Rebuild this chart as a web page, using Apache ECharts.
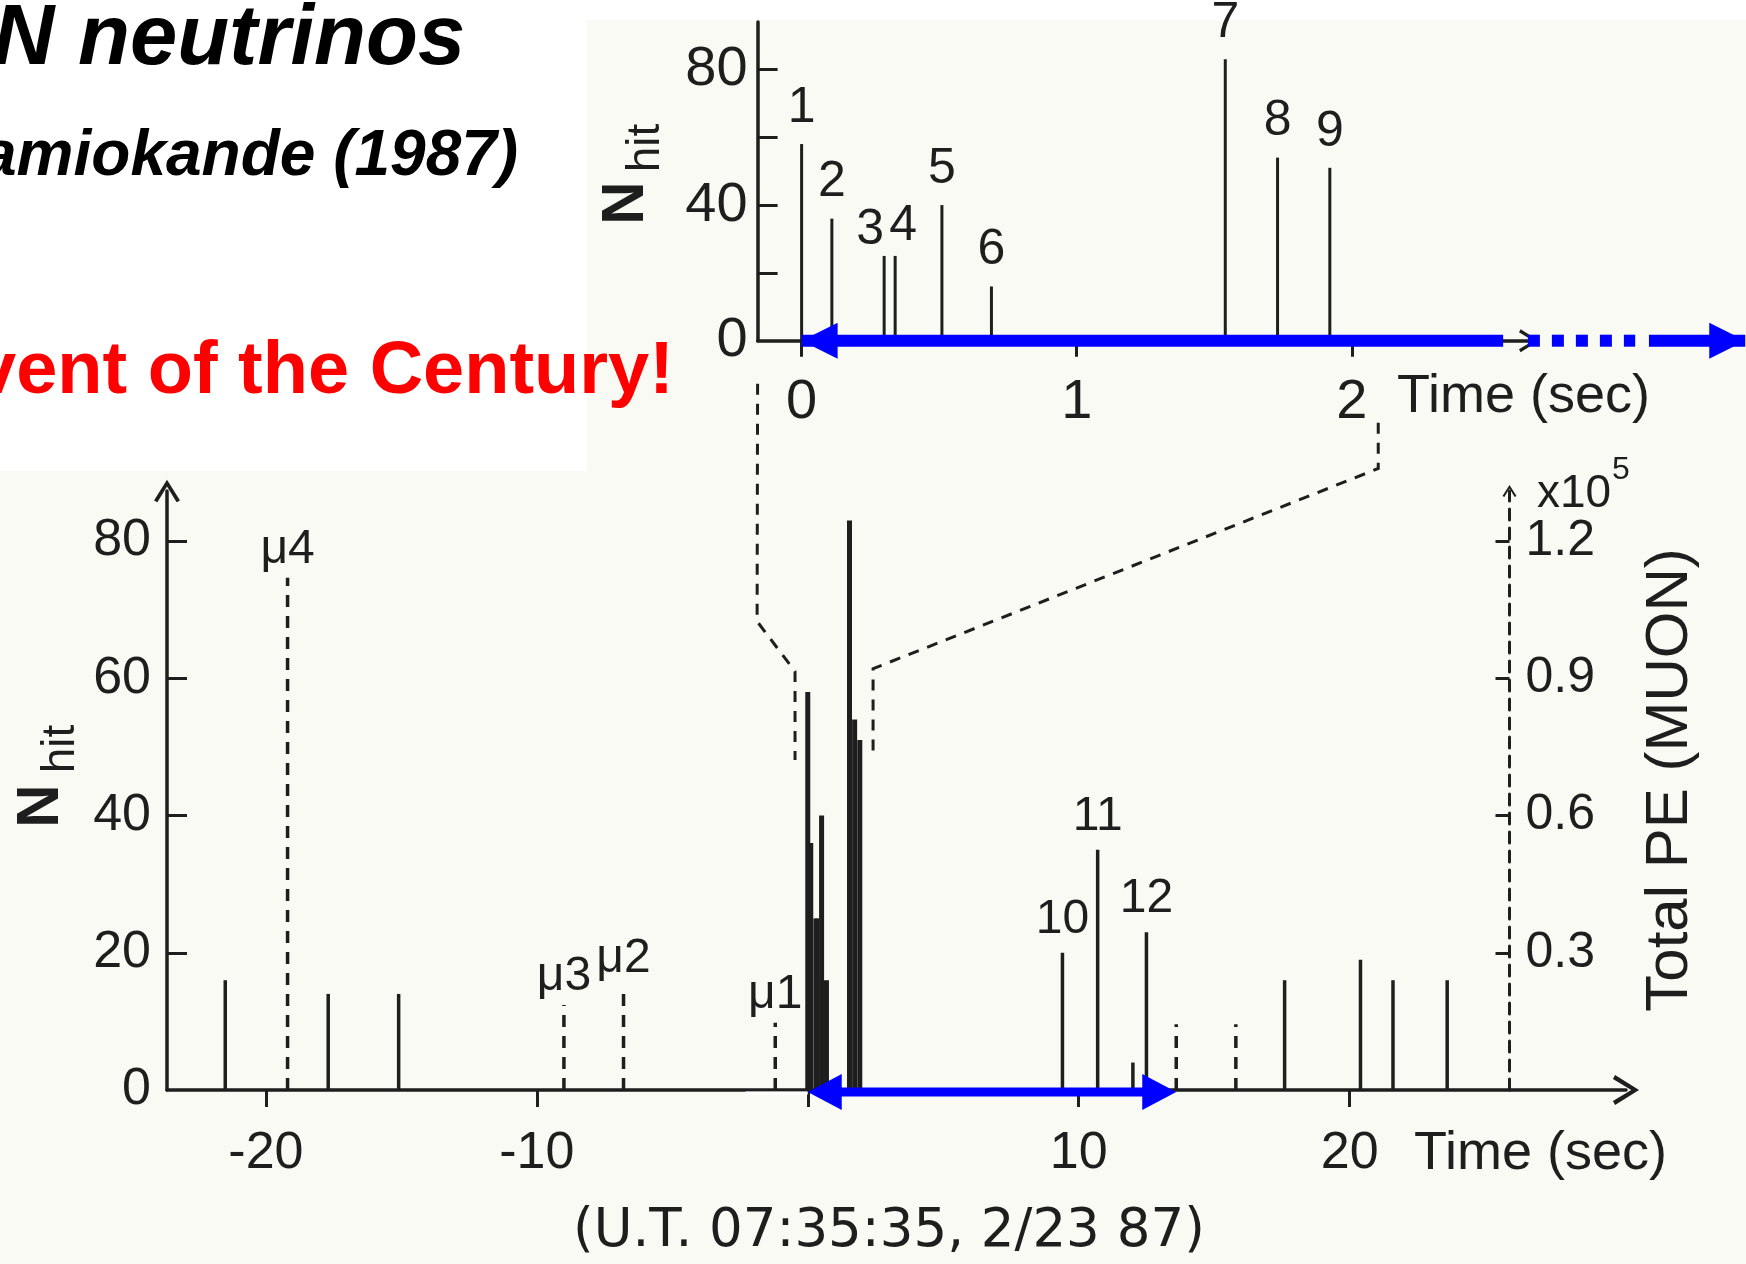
<!DOCTYPE html>
<html>
<head>
<meta charset="utf-8">
<title>SN1987A neutrinos – Kamiokande</title>
<script src="https://cdn.jsdelivr.net/npm/echarts@6/dist/echarts.min.js"></script>
<style>
  html, body { margin: 0; padding: 0; background: #ffffff; }
  #chart { width: 1746px; height: 1264px; }
</style>
</head>
<body>
<div id="chart"></div>
<script>
// ---- Kamiokande-II events around 07:35:35 UT, 23 Feb 1987 ----

// Burst events 1-9 (first two seconds), time in s, Nhit
const burstTimes = [0.00, 0.11, 0.30, 0.34, 0.51, 0.69, 1.54, 1.73, 1.92];
const burstNhit  = [58, 36, 25, 25, 40, 16, 83, 54, 51];
const burstIds   = ['1', '2', '3', '4', '5', '6', '7', '8', '9'];

// Later burst events 10-12
const lateTimes = [9.4, 10.7, 12.5];
const lateNhit  = [20, 35, 23];
const lateIds   = ['10', '11', '12'];

// Background (low-energy) events
const bgTimes = [-21.5, -17.7, -15.1, 12.0, 17.6, 20.4, 21.6, 23.6];
const bgNhit  = [16, 14, 14, 4, 16, 19, 16, 16];

// Muon events, total photoelectrons in units of 1e5
const muonTimes = [-19.2, -9.0, -6.8, -1.2, 13.6, 15.8];
const muonPE    = [1.12, 0.186, 0.225, 0.147, 0.144, 0.144];
const muonIds   = ['μ4', 'μ3', 'μ2', 'μ1', '', ''];

// Axis ticks and labels
const topXTicks  = [0, 1, 2];
const topYTicks  = [20, 40, 60, 80];
const topYLabels = [0, 40, 80];
const botXTicks  = [-20, -10, 0, 10, 20];
const botXLabels = [-20, -10, 10, 20];
const botYTicks  = [20, 40, 60, 80];
const botYLabels = [0, 20, 40, 60, 80];
const peTicks    = [0.3, 0.6, 0.9, 1.2];

// Highlighted time spans (s)
const topArrowSolid  = [[0, 2.55], [3.08, 3.43]];
const topArrowDotted = [2.64, 3.03];
const botArrowSpan   = [0, 13.6];
const botWhiteSpan   = [-2.3, 0];

// Axis ranges
const topX = [-0.16, 2.644], topY = [0, 94];
const botX = [-23.65, 30.2], botY = [0, 87.3];
const PE_PER_NHIT = 0.015;      // 1.2e5 PE sits level with Nhit = 80
const peAxisTime = 25.9;        // where the Total PE axis stands

// ---- styling ----
const INK = '#1e1e1e';
const BLUE = '#0000ff';
const SANS = '"Liberation Sans", Arial, Helvetica, sans-serif';
const WIDE = '"DejaVu Sans", "Liberation Sans", sans-serif';
const NARROW = '"Liberation Sans Narrow", "Liberation Sans", Arial, sans-serif';
const CHEVRON = 'path://M10,0 L20,16 L17.4,17.4 L10,5.2 L2.6,17.4 L0,16 Z';

const topGrid = { left: 757.6, top: 22, width: 771.4, height: 318.7 };
const botGrid = { left: 167, top: 491, width: 1459, height: 599 };

const chart = echarts.init(document.getElementById('chart'), null, { renderer: 'canvas' });

function stickSeries(xi, yi, times, values, ids, look) {
  return {
    type: 'custom',
    xAxisIndex: xi,
    yAxisIndex: yi,
    clip: false,
    silent: true,
    z: look.z || 3,
    data: times.map((t, i) => [t, values[i]]),
    renderItem(params, api) {
      const t = api.value(0), v = api.value(1);
      const base = api.coord([t, 0]);
      const tip = api.coord([t, v]);
      const kids = [{
        type: 'line',
        shape: { x1: base[0], y1: base[1], x2: tip[0], y2: tip[1] },
        style: { stroke: INK, lineWidth: look.width, lineDash: look.dash || null, fill: null }
      }];
      const id = ids ? ids[params.dataIndex] : '';
      if (id) {
        const shift = (look.shift && look.shift[id]) || ['center', 0, look.lift];
        kids.push({
          type: 'text',
          x: tip[0] + shift[1],
          y: tip[1] - shift[2],
          style: { text: id, fill: INK, font: look.font, align: shift[0], verticalAlign: 'middle' }
        });
      }
      return { type: 'group', children: kids };
    }
  };
}

function head(x, y, dir, len, half) {
  return {
    type: 'polygon',
    shape: { points: [[x, y], [x - dir * len, y - half], [x - dir * len, y + half]] },
    style: { fill: BLUE }
  };
}

function bar(x1, x2, y, w, dash) {
  return {
    type: 'line',
    shape: { x1: x1, y1: y, x2: x2, y2: y },
    style: { stroke: BLUE, lineWidth: w, lineDash: dash || null }
  };
}

const option = {
  animation: false,
  backgroundColor: '#fafaf4',
  grid: [
    Object.assign({ outerBoundsMode: 'none' }, topGrid),
    Object.assign({ outerBoundsMode: 'none' }, botGrid)
  ],
  xAxis: [
    {
      gridIndex: 0, type: 'value', min: topX[0], max: topX[1],
      axisLine: { onZero: false, symbol: ['none', CHEVRON], symbolSize: [24, 20],
        lineStyle: { color: INK, width: 3.5 } },
      axisTick: { customValues: topXTicks, length: 16, lineStyle: { color: INK, width: 3 } },
      axisLabel: { customValues: topXTicks, margin: 34, color: INK, fontSize: 56, fontFamily: SANS },
      splitLine: { show: false }
    },
    {
      gridIndex: 1, type: 'value', min: botX[0], max: botX[1],
      axisLine: { onZero: false, symbol: ['none', CHEVRON], symbolSize: [30, 32],
        lineStyle: { color: INK, width: 3.5 } },
      axisTick: { customValues: botXTicks, length: 17, lineStyle: { color: INK, width: 3 } },
      axisLabel: { customValues: botXLabels, margin: 38, color: INK, fontSize: 52, fontFamily: SANS },
      splitLine: { show: false }
    }
  ],
  yAxis: [
    {
      gridIndex: 0, type: 'value', min: topY[0], max: topY[1],
      axisLine: { show: true, onZero: false, lineStyle: { color: INK, width: 3.5 } },
      axisTick: { customValues: topYTicks, inside: true, length: 20, lineStyle: { color: INK, width: 3 } },
      axisLabel: { customValues: topYLabels, margin: 10, color: INK, fontSize: 56, fontFamily: SANS },
      splitLine: { show: false }
    },
    {
      gridIndex: 1, type: 'value', min: botY[0], max: botY[1],
      axisLine: { show: true, onZero: false, symbol: ['none', CHEVRON], symbolSize: [26, 26],
        lineStyle: { color: INK, width: 3.5 } },
      axisTick: { customValues: botYTicks, inside: true, length: 20, lineStyle: { color: INK, width: 3 } },
      axisLabel: { customValues: botYLabels, margin: 16, color: INK, fontSize: 52, fontFamily: SANS },
      splitLine: { show: false }
    },
    {
      gridIndex: 1, type: 'value', position: 'right',
      min: 0, max: botY[1] * PE_PER_NHIT,
      offset: -(botX[1] - peAxisTime) / (botX[1] - botX[0]) * botGrid.width,
      axisLine: { show: true, onZero: false, symbol: ['none', CHEVRON], symbolSize: [14, 14],
        lineStyle: { color: INK, width: 3, type: [11, 8] } },
      axisTick: { customValues: peTicks, inside: true, length: 14, lineStyle: { color: INK, width: 3 } },
      axisLabel: { customValues: peTicks, margin: 16, color: INK, fontSize: 50, fontFamily: SANS,
        formatter: v => v.toFixed(1) },
      splitLine: { show: false }
    }
  ],
  series: [
    // top panel: events 1-9
    stickSeries(0, 0, burstTimes, burstNhit, burstIds, {
      width: 3, font: '50px ' + SANS, lift: 36,
      shift: { '3': ['right', 0, 26], '4': ['left', -6, 30] }
    }),
    // bottom panel: burst cluster, later events, background, muons
    stickSeries(1, 1, burstTimes, burstNhit, null, { width: 5 }),
    stickSeries(1, 1, lateTimes, lateNhit, lateIds, { width: 3.5, font: '48px ' + NARROW, lift: 33 }),
    stickSeries(1, 1, bgTimes, bgNhit, null, { width: 3.5 }),
    stickSeries(1, 2, muonTimes, muonPE, muonIds, { width: 3.5, dash: [12, 9], font: '48px ' + NARROW, lift: 28 }),
    // blue span on the top panel
    {
      type: 'custom', xAxisIndex: 0, yAxisIndex: 0, clip: false, silent: true, z: 5,
      data: [[0, 0]],
      renderItem(params, api) {
        const X = t => api.coord([t, 0])[0];
        const y = api.coord([0, 0])[1];
        const kids = topArrowSolid.map(s => bar(X(s[0]), X(s[1]), y, 12));
        kids.push(bar(X(topArrowDotted[0]), X(topArrowDotted[1]), y, 12, [12, 12]));
        kids.push(head(X(topArrowSolid[0][0]), y, -1, 36, 18));
        kids.push(head(X(topArrowSolid[1][1]), y, 1, 36, 18));
        return { type: 'group', children: kids };
      }
    },
    // blue span on the bottom panel
    {
      type: 'custom', xAxisIndex: 1, yAxisIndex: 1, clip: false, silent: true, z: 5,
      data: [[0, 0]],
      renderItem(params, api) {
        const X = t => api.coord([t, 0])[0];
        const y = api.coord([0, 0])[1] + 2;
        return {
          type: 'group',
          children: [
            { type: 'line', shape: { x1: X(botWhiteSpan[0]), y1: y + 1, x2: X(botWhiteSpan[1]), y2: y + 1 },
              style: { stroke: '#ffffff', lineWidth: 3 } },
            bar(X(botArrowSpan[0]) + 20, X(botArrowSpan[1]) - 20, y, 9),
            head(X(botArrowSpan[0]), y, -1, 34, 18),
            head(X(botArrowSpan[1]), y, 1, 34, 18)
          ]
        };
      }
    }
  ],
  graphic: [
    // paper areas
    { id: 'sheetTop', type: 'rect', z: -1, shape: { x: 0, y: 0, width: 1746, height: 20 }, style: { fill: '#ffffff' } },
    { id: 'sheetBox', type: 'rect', z: -1, shape: { x: 0, y: 0, width: 587, height: 471 }, style: { fill: '#ffffff' } },
    // slide headings
    { id: 'h1', type: 'text', z: 10, x: -7, y: 41,
      style: { text: 'N neutrinos', font: 'italic bold 85px ' + SANS, fill: '#000000', verticalAlign: 'middle' } },
    { id: 'h2', type: 'text', z: 10, x: -19, y: 157,
      style: { text: 'amiokande (1987)', font: 'italic bold 64px ' + SANS, fill: '#000000', verticalAlign: 'middle' } },
    { id: 'h3', type: 'text', z: 10, x: -25, y: 373,
      style: { text: 'vent of the Century!', font: 'bold 74px ' + SANS, fill: '#ff0000', verticalAlign: 'middle' } },
    // axis titles
    { id: 'tN', type: 'text', z: 10, x: 626, y: 203, rotation: Math.PI / 2,
      style: { text: 'N', font: 'bold 60px ' + NARROW, fill: INK, align: 'center', verticalAlign: 'middle' } },
    { id: 'tHit', type: 'text', z: 10, x: 646, y: 148, rotation: Math.PI / 2,
      style: { text: 'hit', font: '46px ' + NARROW, fill: INK, align: 'center', verticalAlign: 'middle' } },
    { id: 'bN', type: 'text', z: 10, x: 41, y: 806, rotation: Math.PI / 2,
      style: { text: 'N', font: 'bold 60px ' + NARROW, fill: INK, align: 'center', verticalAlign: 'middle' } },
    { id: 'bHit', type: 'text', z: 10, x: 61, y: 749, rotation: Math.PI / 2,
      style: { text: 'hit', font: '46px ' + NARROW, fill: INK, align: 'center', verticalAlign: 'middle' } },
    { id: 'tTime', type: 'text', z: 10, x: 1397, y: 397,
      style: { text: 'Time (sec)', font: '54px ' + SANS, fill: INK, verticalAlign: 'middle' } },
    { id: 'bTime', type: 'text', z: 10, x: 1414, y: 1154,
      style: { text: 'Time (sec)', font: '54px ' + SANS, fill: INK, verticalAlign: 'middle' } },
    { id: 'utc', type: 'text', z: 10, x: 573, y: 1232,
      style: { text: '(U.T. 07:35:35, 2/23 87)', font: '53px ' + WIDE, fill: INK, verticalAlign: 'middle' } },
    { id: 'peUnit', type: 'text', z: 10, x: 1537, y: 494,
      style: { text: 'x10', font: '46px ' + SANS, fill: INK, verticalAlign: 'middle' } },
    { id: 'peExp', type: 'text', z: 10, x: 1612, y: 470,
      style: { text: '5', font: '32px ' + SANS, fill: INK, verticalAlign: 'middle' } },
    { id: 'peName', type: 'text', z: 10, x: 1670, y: 780, rotation: Math.PI / 2,
      style: { text: 'Total PE (MUON)', font: '60px ' + SANS, fill: INK, align: 'center', verticalAlign: 'middle' } }
  ]
};

chart.setOption(option);

// Dashed guides tying the top (expanded) panel to the burst in the bottom panel.
const leftGuide  = { top: [[-0.16, -12.7]], bottom: [[-1.87, 68.3], [-0.47, 61.0], [-0.47, 48.1]] };
const rightGuide = { top: [[2.096, -24.2], [2.096, -37.7]], bottom: [[2.41, 61.4], [2.41, 48.8]] };

function guidePoints(g) {
  const a = g.top.map(p => chart.convertToPixel({ xAxisIndex: 0, yAxisIndex: 0 }, p));
  const b = g.bottom.map(p => chart.convertToPixel({ xAxisIndex: 1, yAxisIndex: 1 }, p));
  return a.concat(b);
}

chart.setOption({
  graphic: [
    { id: 'guideL', type: 'polyline', z: 4, shape: { points: guidePoints(leftGuide) },
      style: { stroke: INK, lineWidth: 3, lineDash: [11, 9], fill: null } },
    { id: 'guideR', type: 'polyline', z: 4, shape: { points: guidePoints(rightGuide) },
      style: { stroke: INK, lineWidth: 3, lineDash: [11, 9], fill: null } }
  ]
});
</script>
</body>
</html>
